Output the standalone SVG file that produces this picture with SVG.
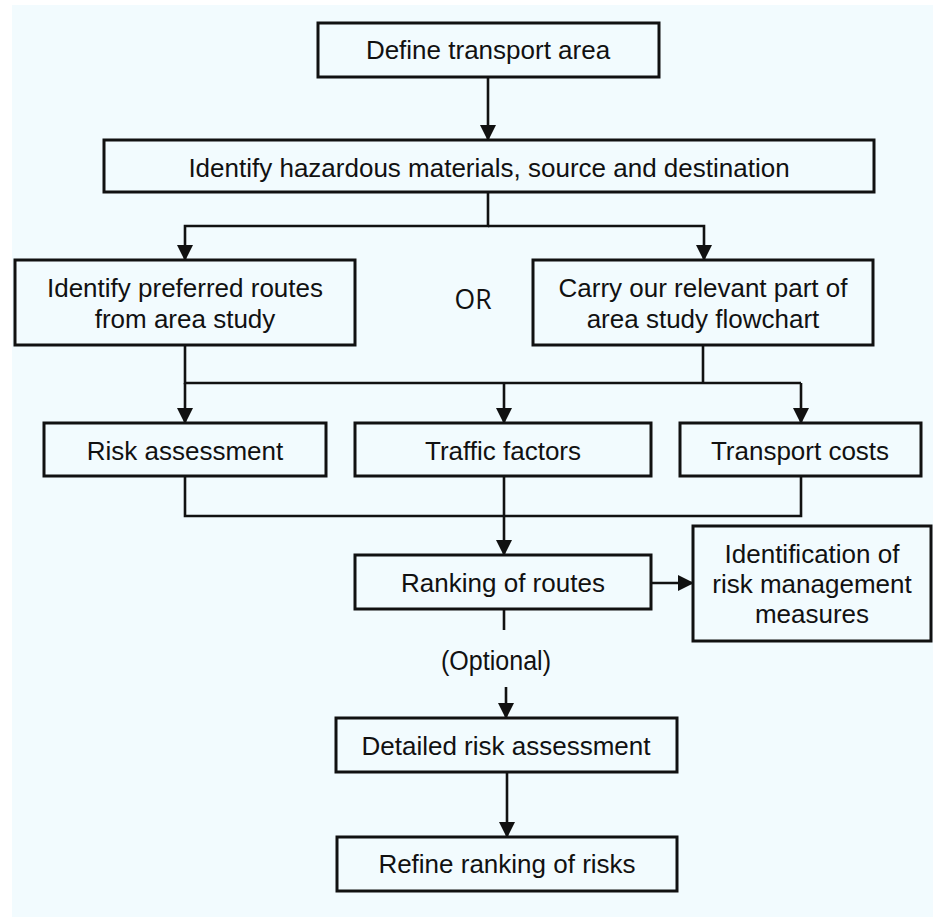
<svg xmlns="http://www.w3.org/2000/svg" width="933" height="922" viewBox="0 0 933 922">
<defs>
<style>
.box{fill:#f2fbfe;stroke:#111;stroke-width:3}
.t{font-family:"Liberation Sans",Arial,sans-serif;font-size:26px;fill:#111;text-anchor:middle}
.c{fill:none;stroke:#111;stroke-width:2.6}
</style>
<marker id="ah" markerUnits="userSpaceOnUse" markerWidth="16" markerHeight="16" viewBox="0 0 16 16" refX="15" refY="8" orient="auto">
<path d="M0,0 L16,8 L0,16 Z" fill="#111"/>
</marker>
</defs>
<rect x="0" y="0" width="933" height="922" fill="#ffffff"/>
<rect x="12" y="5" width="921" height="912" fill="#f2fbfe"/>

<g id="connectors">
<path class="c" d="M488,77 V140" marker-end="url(#ah)"/>
<path class="c" d="M488,192 V226 H185 V260" marker-end="url(#ah)"/>
<path class="c" d="M488,226 H704 V260" marker-end="url(#ah)"/>
<path class="c" d="M185,345 V383 H801" />
<path class="c" d="M703,345 V383"/>
<path class="c" d="M185,383 V423" marker-end="url(#ah)"/>
<path class="c" d="M504,383 V423" marker-end="url(#ah)"/>
<path class="c" d="M801,383 V423" marker-end="url(#ah)"/>
<path class="c" d="M185,476 V516 H801 V476"/>
<path class="c" d="M504,476 V555" marker-end="url(#ah)"/>
<path class="c" d="M651,583 H693" marker-end="url(#ah)"/>
<path class="c" d="M504,609 V630"/>
<path class="c" d="M506,687 V718" marker-end="url(#ah)"/>
<path class="c" d="M507,772 V837" marker-end="url(#ah)"/>
</g>

<g id="n1"><rect class="box" x="318" y="23" width="341" height="54"/><text class="t" x="488" y="59">Define transport area</text></g>
<g id="n2"><rect class="box" x="104" y="140" width="770" height="52"/><text class="t" x="489" y="177">Identify hazardous materials, source and destination</text></g>
<g id="n3"><rect class="box" x="15" y="260" width="340" height="85"/><text class="t" x="185" y="297">Identify preferred routes</text><text class="t" x="185" y="328">from area study</text></g>
<g id="or"><text x="473" y="309" font-family="'Open Sans','Liberation Sans',sans-serif" font-size="28" fill="#111" text-anchor="middle" textLength="37" lengthAdjust="spacingAndGlyphs">OR</text></g>
<g id="n4"><rect class="box" x="533" y="260" width="340" height="85"/><text class="t" x="703" y="297">Carry our relevant part of</text><text class="t" x="703" y="328">area study flowchart</text></g>
<g id="n5"><rect class="box" x="44" y="423" width="282" height="53"/><text class="t" x="185" y="460">Risk assessment</text></g>
<g id="n6"><rect class="box" x="355" y="423" width="296" height="53"/><text class="t" x="503" y="460">Traffic factors</text></g>
<g id="n7"><rect class="box" x="680" y="423" width="241" height="53"/><text class="t" x="800" y="460">Transport costs</text></g>
<g id="n8"><rect class="box" x="355" y="555" width="296" height="54"/><text class="t" x="503" y="592">Ranking of routes</text></g>
<g id="n9"><rect class="box" x="693" y="526" width="238" height="115"/><text class="t" x="812" y="563">Identification of</text><text class="t" x="812" y="593">risk management</text><text class="t" x="812" y="623">measures</text></g>
<g id="opt"><text x="496" y="670" font-family="'Liberation Sans',Arial,sans-serif" font-size="27" fill="#111" text-anchor="middle" textLength="110" lengthAdjust="spacingAndGlyphs">(Optional)</text></g>
<g id="n10"><rect class="box" x="336" y="718" width="341" height="54"/><text class="t" x="506" y="755">Detailed risk assessment</text></g>
<g id="n11"><rect class="box" x="337" y="837" width="340" height="54"/><text class="t" x="507" y="873">Refine ranking of risks</text></g>
</svg>
